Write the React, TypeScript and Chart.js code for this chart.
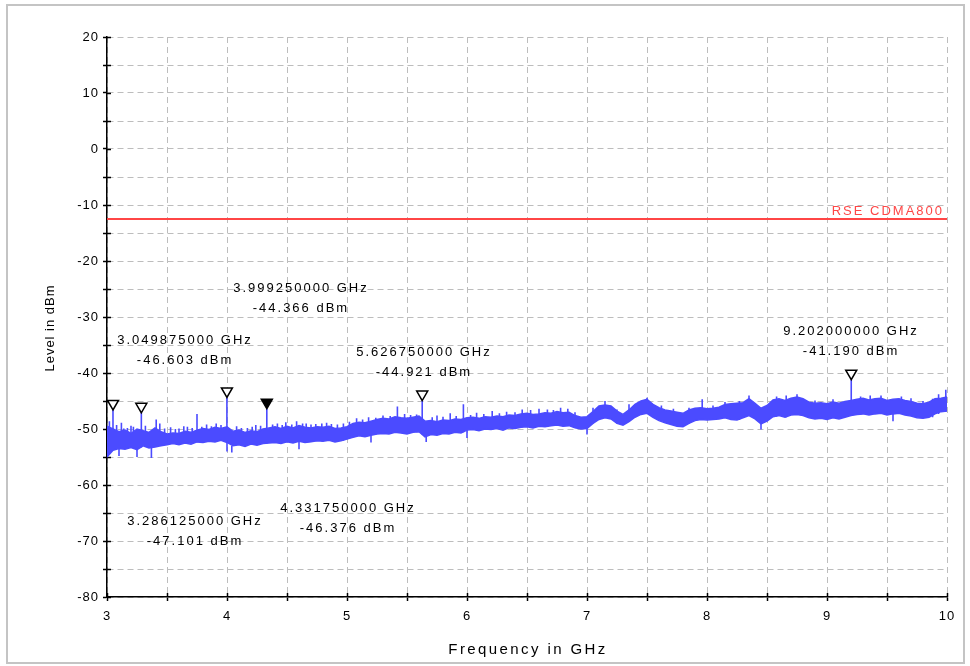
import React, { useEffect, useRef } from "react";
import { Chart, registerables } from "chart.js";

Chart.register(...registerables);

// ---- Data ----
const bandFreq = [
  3, 3.05, 3.1, 3.15, 3.2, 3.25, 3.3, 3.35, 3.4, 3.45,
  3.5, 3.55, 3.6, 3.65, 3.7, 3.75, 3.8, 3.85, 3.9, 3.95,
  4, 4.05, 4.1, 4.15, 4.2, 4.25, 4.3, 4.35, 4.4, 4.45,
  4.5, 4.55, 4.6, 4.65, 4.7, 4.75, 4.8, 4.85, 4.9, 4.95,
  5, 5.05, 5.1, 5.15, 5.2, 5.25, 5.3, 5.35, 5.4, 5.45,
  5.5, 5.55, 5.6, 5.65, 5.7, 5.75, 5.8, 5.85, 5.9, 5.95,
  6, 6.05, 6.1, 6.15, 6.2, 6.25, 6.3, 6.35, 6.4, 6.45,
  6.5, 6.55, 6.6, 6.65, 6.7, 6.75, 6.8, 6.85, 6.9, 6.95,
  7, 7.05, 7.1, 7.15, 7.2, 7.25, 7.3, 7.35, 7.4, 7.45,
  7.5, 7.55, 7.6, 7.65, 7.7, 7.75, 7.8, 7.85, 7.9, 7.95,
  8, 8.05, 8.1, 8.15, 8.2, 8.25, 8.3, 8.35, 8.4, 8.45,
  8.5, 8.55, 8.6, 8.65, 8.7, 8.75, 8.8, 8.85, 8.9, 8.95,
  9, 9.05, 9.1, 9.15, 9.2, 9.25, 9.3, 9.35, 9.4, 9.45,
  9.5, 9.55, 9.6, 9.65, 9.7, 9.75, 9.8, 9.85, 9.9, 9.95,
  10,
];

const bandUpper = [
  -49.5, -50.0, -50.5, -50.2, -50.8, -50.0, -50.3, -50.6, -49.8, -50.5,
  -50.9, -50.7, -50.8, -50.4, -50.6, -50.2, -49.9, -50.1, -49.7, -49.9,
  -49.6, -50.4, -50.2, -50.6, -50.3, -50.5, -50.0, -49.8, -49.6, -49.9,
  -49.5, -49.8, -49.4, -49.7, -49.8, -49.6, -49.7, -49.5, -49.9, -49.8,
  -49.6, -49.0, -48.8, -48.9, -48.6, -48.3, -48.1, -48.2, -47.8, -48.0,
  -48.1, -47.9, -47.7, -48.6, -48.5, -48.7, -48.4, -48.5, -48.2, -48.3,
  -48.0, -47.9, -48.1, -47.8, -47.9, -47.7, -47.8, -47.5, -47.6, -47.3,
  -47.2, -47.4, -47.3, -47.1, -47.2, -46.9, -47.1, -47.0, -47.6, -47.9,
  -47.8, -46.9, -45.9, -45.7, -45.9, -46.8, -47.4, -46.6, -45.6, -45.0,
  -44.7, -45.6, -46.2, -46.6, -46.8, -47.0, -47.2, -46.6, -46.3, -46.2,
  -46.4, -46.3, -46.1, -45.6, -45.5, -45.4, -45.3, -44.6, -45.4, -46.3,
  -45.8, -44.8, -44.6, -44.9, -44.5, -44.3, -44.6, -45.2, -45.4, -45.3,
  -45.5, -45.2, -45.4, -45.1, -44.9, -44.7, -44.5, -44.8, -44.6, -44.5,
  -44.9, -44.7, -44.6, -44.9, -45.1, -45.4, -45.5, -45.2, -44.6, -44.5,
  -44.3,
];

const bandLower = [
  -55.0, -53.8, -53.5, -53.6, -53.3, -53.7, -53.0, -53.4, -53.2, -53.0,
  -52.8, -52.6, -52.8, -52.5, -52.7, -52.3, -52.4, -52.2, -52.3, -52.0,
  -52.4, -53.0, -52.8, -53.1, -52.7, -52.9, -52.6, -52.5, -52.4, -52.6,
  -52.3, -52.5, -52.2, -52.4, -52.3, -52.1, -52.2, -52.0, -52.3, -52.1,
  -51.8, -51.5, -51.2, -51.4, -51.1, -50.9, -50.8, -50.9, -50.6, -50.7,
  -50.9, -50.6, -50.5, -51.4, -51.0, -51.1, -50.8, -50.9, -50.6, -50.7,
  -50.2, -50.1, -50.3, -50.0, -50.1, -49.9, -50.2, -49.8, -49.9, -49.7,
  -49.6, -49.8, -49.5, -49.6, -49.4, -49.3, -49.5, -49.4, -49.8, -50.0,
  -49.9, -49.0, -48.3, -48.0, -48.2, -49.0, -49.3, -48.7, -47.9, -47.4,
  -47.2, -47.9, -48.5, -48.9, -49.2, -49.5, -49.6, -49.0, -48.5, -48.3,
  -48.4, -48.3, -48.2, -48.0, -48.3, -48.4, -48.0, -47.6, -48.2, -49.1,
  -48.6, -47.8, -47.6, -47.9, -47.5, -47.4, -47.6, -48.0, -48.2, -48.1,
  -48.3, -48.0, -48.2, -47.9, -47.6, -47.4, -47.3, -47.5, -47.3, -47.2,
  -47.5, -47.3, -47.2, -47.5, -47.7, -48.0, -48.1, -47.9, -47.3, -46.9,
  -46.8,
];

// single-bin spikes standing out of the noise band (base -> peak)
const spikeFreq = [
  3.02, 3.049875, 3.08, 3.1, 3.12, 3.14, 3.17, 3.2, 3.22, 3.25,
  3.286125, 3.32, 3.37, 3.41, 3.44, 3.48, 3.53, 3.57, 3.6, 3.64,
  3.67, 3.71, 3.75, 3.79, 3.83, 3.87, 3.91, 3.95, 3.99925, 4.0,
  4.04, 4.08, 4.12, 4.17, 4.21, 4.24, 4.28, 4.33175, 4.38, 4.42,
  4.46, 4.49, 4.54, 4.58, 4.6, 4.63, 4.66, 4.7, 4.74, 4.79,
  4.83, 4.87, 4.92, 4.97, 5.02, 5.08, 5.13, 5.18, 5.2, 5.24,
  5.3, 5.36, 5.42, 5.48, 5.53, 5.58, 5.62675, 5.66, 5.71, 5.75,
  5.8, 5.86, 5.91, 5.97, 6.0, 6.03, 6.08, 6.14, 6.21, 6.27,
  6.33, 6.4, 6.46, 6.53, 6.6, 6.67, 6.72, 6.78, 6.84, 6.9,
  7.0, 7.05, 7.15, 7.25, 7.35, 7.5, 7.62, 7.72, 7.85, 7.96,
  8.05, 8.15, 8.27, 8.35, 8.45, 8.58, 8.66, 8.75, 8.9, 9.05,
  9.202, 9.28, 9.36, 9.45, 9.55, 9.62, 9.7, 9.8, 9.88, 9.93,
  9.99,
];
const spikeBase = [
  -54.0, -53.5, -53.2, -53.5, -53.4, -53.5, -53.3, -53.2, -53.2, -53.7,
  -53.3, -53.0, -52.8, -53.0, -53.0, -52.9, -52.7, -52.6, -52.7, -52.5,
  -52.5, -52.6, -52.4, -52.3, -52.3, -52.2, -52.2, -52.0, -52.4, -52.4,
  -53.0, -52.9, -52.8, -53.0, -52.7, -52.8, -52.6, -52.6, -52.5, -52.4,
  -52.5, -52.4, -52.4, -52.3, -52.2, -52.3, -52.3, -52.3, -52.2, -52.2,
  -52.1, -52.0, -52.2, -52.1, -51.6, -51.3, -51.3, -51.2, -51.1, -51.0,
  -50.8, -50.9, -50.7, -50.8, -50.7, -50.6, -51.0, -51.3, -51.0, -51.0,
  -50.9, -50.9, -50.7, -50.6, -50.2, -50.2, -50.2, -50.0, -50.1, -50.0,
  -50.0, -49.9, -49.7, -49.7, -49.5, -49.6, -49.4, -49.3, -49.4, -49.8,
  -49.9, -49.0, -48.0, -49.0, -48.7, -47.2, -48.5, -49.2, -49.0, -48.4,
  -48.3, -48.0, -48.4, -47.6, -49.1, -47.8, -47.9, -47.4, -48.2, -48.0,
  -47.6, -47.4, -47.4, -47.2, -47.3, -47.2, -47.7, -48.1, -47.9, -47.3,
  -46.9,
];
const spikePeak = [
  -48.6, -46.603, -49.3, -54.8, -48.9, -49.9, -49.8, -49.4, -49.6, -55.0,
  -47.101, -49.4, -55.2, -48.3, -49.0, -49.9, -49.7, -50.0, -49.9, -49.5,
  -49.6, -49.8, -47.3, -49.6, -49.2, -49.5, -49.0, -49.3, -44.366, -54.0,
  -54.2, -49.5, -49.8, -49.8, -49.6, -49.3, -49.4, -46.376, -49.2, -49.0,
  -49.3, -48.8, -49.2, -48.6, -53.6, -49.0, -49.0, -49.2, -49.1, -49.0,
  -48.9, -49.1, -49.2, -49.0, -48.7, -48.1, -48.3, -47.9, -52.4, -48.0,
  -47.6, -47.7, -46.0, -47.3, -47.5, -47.4, -44.921, -52.3, -47.9, -47.6,
  -47.8, -47.2, -47.7, -45.6, -51.6, -47.5, -47.1, -47.3, -46.8, -47.2,
  -46.9, -47.0, -46.5, -46.6, -46.4, -46.5, -46.6, -46.2, -46.4, -47.0,
  -51.0, -46.2, -45.0, -46.5, -45.6, -44.4, -45.8, -46.4, -46.2, -44.7,
  -45.8, -45.2, -45.0, -44.0, -50.1, -44.2, -44.0, -43.8, -44.9, -44.7,
  -41.19, -44.2, -44.0, -44.0, -48.6, -44.2, -44.5, -45.0, -44.6, -43.8,
  -43.0,
];

const markerFreq = [3.049875, 3.286125, 3.99925, 4.33175, 5.62675, 9.202];
const markerLevel = [-46.603, -47.101, -44.366, -46.376, -44.921, -41.19];
const activeMarker = 3;

const limitLevel = -12.5;
const limitName = "RSE CDMA800";

const xMin = 3;
const xMax = 10;
const yMin = -80;
const yMax = 20;
const xTitle = "Frequency in GHz";
const yTitle = "Level in dBm";

// label anchors (layout, in axis units)
const markerLabelX = [3.642, 3.725, 4.608, 5.0, 5.633, 9.192];
const markerLabelY = [-34.23, -66.55, -24.95, -64.23, -36.38, -32.63];

const FONT = '"Liberation Sans", Arial, sans-serif';
const BLUE = "#4b4bff";
const RED = "#ff4646";

const overlayPlugin = {
  id: "overlay",
  beforeDraw(chart: any) {
    const { ctx } = chart;
    ctx.save();
    ctx.fillStyle = "#ffffff";
    ctx.fillRect(0, 0, chart.width, chart.height);
    ctx.strokeStyle = "#c4c4c4";
    ctx.lineWidth = 2;
    ctx.strokeRect(7, 5, 957, 658);
    ctx.restore();
    (ctx as any).letterSpacing = "1px";
  },
  beforeDatasetsDraw(chart: any) {
    const { ctx, chartArea, scales } = chart;
    const x = scales.x;
    const y = scales.y;
    ctx.save();
    ctx.strokeStyle = "#000";
    ctx.lineWidth = 1.5;
    ctx.beginPath();
    x.ticks.forEach((t: any) => {
      const px = Math.round(x.getPixelForValue(t.value)) + 0.5;
      ctx.moveTo(px, chartArea.bottom);
      ctx.lineTo(px, chartArea.bottom - 4);
    });
    y.ticks.forEach((t: any) => {
      const py = Math.round(y.getPixelForValue(t.value)) + 0.5;
      ctx.moveTo(chartArea.left, py);
      ctx.lineTo(chartArea.left + 4, py);
    });
    ctx.stroke();
    ctx.restore();
  },
  afterDatasetsDraw(chart: any) {
    const { ctx, chartArea, scales } = chart;
    const x = scales.x;
    const y = scales.y;
    ctx.save();
    // limit line
    const ly = y.getPixelForValue(limitLevel);
    ctx.strokeStyle = RED;
    ctx.lineWidth = 2;
    ctx.beginPath();
    ctx.moveTo(chartArea.left, ly);
    ctx.lineTo(chartArea.right, ly);
    ctx.stroke();
    ctx.fillStyle = RED;
    ctx.font = `13px ${FONT}`;
    (ctx as any).letterSpacing = "2px";
    ctx.textAlign = "right";
    ctx.textBaseline = "alphabetic";
    ctx.fillText(limitName, chartArea.right - 3, ly - 4);

    // markers
    markerFreq.forEach((f, i) => {
      const px = x.getPixelForValue(f);
      const py = y.getPixelForValue(markerLevel[i]);
      ctx.beginPath();
      ctx.moveTo(px, py);
      ctx.lineTo(px - 5.5, py - 9.5);
      ctx.lineTo(px + 5.5, py - 9.5);
      ctx.closePath();
      ctx.fillStyle = i === activeMarker ? "#000" : "#fff";
      ctx.fill();
      ctx.strokeStyle = "#000";
      ctx.lineWidth = 1.5;
      ctx.stroke();

      const lx = x.getPixelForValue(markerLabelX[i]);
      const ly1 = y.getPixelForValue(markerLabelY[i]);
      ctx.fillStyle = "#000";
      ctx.textAlign = "center";
      ctx.textBaseline = "middle";
      ctx.fillText(f.toFixed(9) + " GHz", lx + 1, ly1);
      ctx.fillText(markerLevel[i].toFixed(3) + " dBm", lx + 1, ly1 + 20);
    });

    // axis titles
    ctx.fillStyle = "#000";
    ctx.font = `15px ${FONT}`;
    (ctx as any).letterSpacing = "2.4px";
    ctx.textAlign = "center";
    ctx.textBaseline = "middle";
    ctx.fillText(xTitle, (chartArea.left + chartArea.right) / 2 + 1, 650);

    ctx.font = `13px ${FONT}`;
    (ctx as any).letterSpacing = "1px";
    ctx.translate(50, 328);
    ctx.rotate(-Math.PI / 2);
    ctx.fillText(yTitle, 0, 0);
    ctx.restore();
  },
  afterDraw(chart: any) {
    (chart.ctx as any).letterSpacing = "0px";
  },
};

export default function App() {
  const ref = useRef<HTMLCanvasElement | null>(null);

  useEffect(() => {
    if (!ref.current) return;
    const lower = bandFreq.map((f, i) => ({ x: f, y: bandLower[i] }));
    const upper = bandFreq.map((f, i) => ({ x: f, y: bandUpper[i] }));
    const spikes: any[] = [];
    spikeFreq.forEach((f, i) => {
      spikes.push({ x: f, y: spikeBase[i] });
      spikes.push({ x: f, y: spikePeak[i] });
      spikes.push({ x: f, y: null });
    });

    const chart = new Chart(ref.current, {
      type: "line",
      data: {
        datasets: [
          {
            data: lower,
            borderColor: BLUE,
            borderWidth: 1.5,
            pointRadius: 0,
            fill: false,
            tension: 0,
          },
          {
            data: upper,
            borderColor: BLUE,
            backgroundColor: BLUE,
            borderWidth: 1.5,
            pointRadius: 0,
            fill: "-1",
            tension: 0,
          },
          {
            data: spikes,
            borderColor: BLUE,
            borderWidth: 1.6,
            pointRadius: 0,
            fill: false,
            spanGaps: false,
            tension: 0,
          },
        ],
      },
      options: {
        responsive: false,
        animation: false,
        events: [],
        layout: { padding: { left: 0, top: 37, right: 23, bottom: 0 } },
        plugins: {
          legend: { display: false },
          tooltip: { enabled: false },
        },
        scales: {
          x: {
            type: "linear",
            min: xMin,
            max: xMax,
            afterFit: (s: any) => {
              s.height = 69;
            },
            ticks: {
              stepSize: 0.5,
              autoSkip: false,
              maxRotation: 0,
              padding: 8,
              color: "#000",
              font: { family: FONT, size: 13 },
              callback: (v: any) => (Number.isInteger(v) ? String(v) : ""),
            },
            grid: {
              color: "#bdbdbd",
              lineWidth: 1,
              tickColor: "#000",
              tickLength: 4,
              tickWidth: 1.5,
            },
            border: { color: "#000", width: 1.5, dash: [6, 4] },
            title: { display: false, text: xTitle },
          },
          y: {
            type: "linear",
            min: yMin,
            max: yMax,
            afterFit: (s: any) => {
              s.width = 107;
            },
            ticks: {
              stepSize: 5,
              autoSkip: false,
              padding: 4,
              color: "#000",
              font: { family: FONT, size: 13 },
              callback: (v: any) => (v % 10 === 0 ? String(v) : ""),
            },
            grid: {
              color: "#bdbdbd",
              lineWidth: 1,
              tickColor: "#000",
              tickLength: 4,
              tickWidth: 1.5,
            },
            border: { color: "#000", width: 1.5, dash: [6, 4] },
            title: { display: false, text: yTitle },
          },
        },
      },
      plugins: [overlayPlugin],
    });
    return () => chart.destroy();
  }, []);

  return (
    <div
      style={{
        position: "fixed",
        left: 0,
        top: 0,
        width: 970,
        height: 666,
        background: "#fff",
      }}
    >
      <canvas ref={ref} width={970} height={666} style={{ display: "block" }} />
    </div>
  );
}
